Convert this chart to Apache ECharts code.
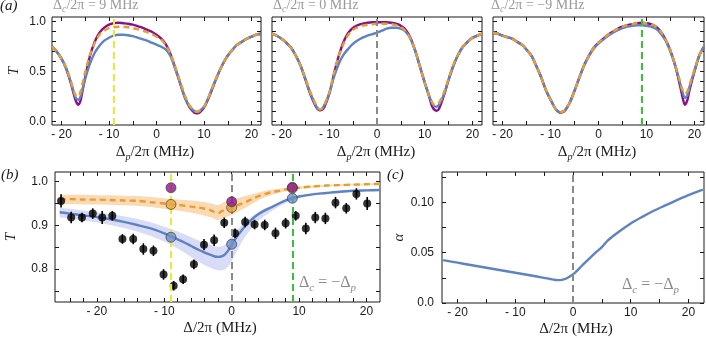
<!DOCTYPE html>
<html lang="en">
<head>
<meta charset="UTF-8">
<title>Transmission spectra</title>
<style>
  body { margin: 0; background: #fff; }
  #main { width: 706px; height: 338px; }
</style>
</head>
<body>
<div id="main"></div>
<script src="https://cdn.jsdelivr.net/npm/echarts@6/dist/echarts.min.js"></script>
<script>
// ---- panel (a): probe detuning scans, three control detunings ----
var xA1 = [-22,-21,-20,-19,-18,-17.5,-17,-16.5,-16,-15.5,-15,-14,-13,-12,-11,-10,-9,-8,-7,-6,-5,-4,-3,-2,-1,0,1,2,3,4,5,6,7,8,8.5,9,10,11,12,13,14,15,16,17,18,19,20,21,22];
var purpleA1 = [.75,.70,.63,.53,.38, .29,.21,.17,.21,.33,.45, .66,.80,.89,.94,.97,.985,.99,.985,.98,.97,.955,.94,.92,.90,.87,.83,.77,.67,.53,.38,.24,.14,.09, .085, .09,.14,.24,.36,.48,.58,.66,.72,.77,.80,.83,.85,.87,.88];
var blueA1   = [.75,.70,.63,.53,.39, .31,.24,.22,.25,.34,.43, .58,.69,.76,.81,.84,.86,.87,.87,.865,.855,.84,.825,.81,.79,.77,.75,.72,.65,.52,.38,.24,.15,.105, .10, .105,.15,.25,.37,.48,.58,.66,.72,.77,.80,.83,.85,.87,.88];
var orangeA1 = [.75,.70,.63,.54,.40, .32,.26,.25,.30,.40,.50, .67,.79,.87,.91,.935,.945,.95,.95,.945,.935,.925,.91,.895,.875,.85,.82,.76,.67,.54,.40,.26,.16,.11, .10, .105,.15,.25,.37,.48,.58,.66,.72,.77,.80,.83,.85,.87,.88];

var xA2 = [-22,-21,-20,-19,-18,-17,-16,-15,-14,-13,-12.5,-12,-11.5,-11,-10,-9,-8,-7,-6,-5,-4,-3,-2,-1,0,1,2,3,4,5,6,7,8,9,10,11,11.5,12,12.5,13,14,15,16,17,18,19,20,21,22];
var purpleA2 = [.88,.86,.83,.79,.74,.66,.56,.42,.28,.17, .13,.115,.12, .15,.28,.48,.66,.80,.89,.94,.965,.98,.99,.995,.995,.995,.995,.99,.98,.96,.92,.84,.71,.55,.39,.24, .16,.12,.11, .13,.26,.42,.56,.67,.75,.80,.84,.86,.88];
var blueA2   = [.88,.86,.83,.79,.74,.66,.56,.43,.29,.18, .135,.12,.13, .17,.28,.45,.58,.67,.73,.78,.815,.84,.86,.875,.89,.91,.93,.94,.94,.93,.90,.83,.71,.55,.39,.25, .19,.155,.15, .17,.27,.42,.56,.67,.75,.80,.84,.86,.88];
var orangeA2 = [.88,.86,.83,.79,.74,.66,.56,.43,.30,.19, .145,.125,.13, .17,.29,.49,.66,.78,.87,.92,.945,.96,.97,.975,.98,.98,.98,.975,.965,.945,.905,.83,.71,.55,.39,.25, .20,.17,.17, .19,.29,.43,.57,.67,.75,.80,.84,.86,.88];

var xA3 = [-22,-21,-20,-19,-18,-17,-16,-15,-14,-13,-12,-11,-10,-9,-8.5,-8,-7.5,-7,-6,-5,-4,-3,-2,-1,0,1,2,3,4,5,6,7,8,9,10,11,12,13,14,15,16,17,17.5,18,18.5,19,20,21,22];
var purpleA3 = [.89,.88,.86,.845,.83,.80,.77,.72,.66,.56,.45,.32,.22,.13, .105,.09,.095, .11,.19,.31,.44,.565,.66,.74,.79,.83,.87,.90,.93,.95,.965,.975,.985,.99,.985,.975,.95,.90,.82,.71,.56,.36, .25,.17,.21, .32,.50,.66,.75];
var blueA3   = [.89,.88,.86,.845,.83,.80,.77,.72,.66,.56,.45,.32,.22,.13, .105,.095,.10, .115,.19,.31,.44,.56,.655,.73,.78,.82,.86,.89,.915,.935,.95,.96,.965,.965,.96,.95,.93,.88,.81,.70,.56,.39, .30,.24,.26, .35,.51,.66,.75];
var orangeA3 = [.89,.88,.86,.845,.83,.80,.77,.72,.66,.56,.45,.32,.22,.13, .105,.095,.10, .115,.19,.31,.44,.565,.66,.74,.79,.83,.87,.90,.93,.95,.965,.975,.985,.99,.985,.975,.95,.90,.82,.71,.57,.40, .32,.28,.30, .37,.52,.66,.75];

// ---- panel (b): transmission at two-photon resonance ----
var xB = [-25.5,-24,-22,-20,-18,-16,-14,-12,-10,-9,-8,-7,-6,-5,-4,-3,-2.5,-2,-1.5,-1,-0.5,0,0.5,1,1.5,2,3,4,5,6,7,8,9,10,12,14,16,18,20,22];
var blueB   = [.930,.927,.923,.919,.914,.908,.901,.893,.882,.875,.868,.861,.853,.845,.838,.832,.829,.828,.829,.834,.843,.856,.868,.879,.889,.898,.914,.926,.935,.942,.950,.957,.962,.966,.971,.974,.977,.979,.980,.981];
var blueLo  = [.918,.916,.911,.907,.901,.894,.886,.876,.863,.855,.847,.838,.828,.818,.809,.802,.799,.797,.797,.799,.806,.818,.833,.848,.862,.874,.895,.911,.923,.933,.943,.951,.958,.963,.969,.972,.975,.977,.978,.979];
var blueHi  = [.940,.938,.934,.930,.926,.921,.915,.907,.897,.892,.886,.880,.873,.866,.860,.855,.852,.851,.852,.856,.863,.874,.884,.893,.901,.908,.921,.931,.939,.946,.953,.959,.964,.968,.973,.976,.979,.981,.982,.983];
var orangeB  = [.960,.960,.959,.959,.958,.957,.956,.953,.950,.948,.947,.945,.943,.941,.938,.934,.930,.928,.932,.936,.938,.941,.944,.947,.950,.953,.960,.967,.972,.976,.979,.982,.984,.986,.989,.991,.992,.993,.994,.995];
var orangeLo = [.949,.949,.948,.948,.947,.946,.945,.942,.938,.936,.934,.932,.929,.926,.922,.918,.914,.912,.915,.918,.921,.924,.928,.932,.936,.940,.949,.958,.965,.970,.974,.978,.981,.983,.986,.989,.990,.991,.992,.993];
var orangeHi = [.970,.970,.970,.969,.969,.968,.967,.965,.962,.960,.959,.958,.957,.955,.953,.950,.948,.946,.950,.954,.956,.959,.961,.963,.965,.967,.971,.975,.979,.982,.984,.986,.987,.989,.991,.993,.994,.995,.996,.997];

var dataX   = [-25.3,-23.8,-22.2,-20.6,-19.2,-17.7,-16.2,-14.6,-13.1,-11.6,-10.1,-8.6,-7.2,-5.6,-4.1,-2.6,-1.1,0.5,2.0,3.4,4.9,6.5,8.0,9.5,11.0,12.4,13.9,15.4,17.0,18.5,20.1];
var dataT   = [0.956,0.918,0.918,0.927,0.918,0.922,0.869,0.869,0.846,0.842,0.788,0.762,0.777,0.811,0.856,0.866,0.906,0.882,0.908,0.902,0.901,0.882,0.905,0.922,0.893,0.918,0.916,0.952,0.939,0.972,0.950];
var dataErr = [0.015,0.013,0.011,0.012,0.015,0.011,0.011,0.012,0.013,0.012,0.012,0.011,0.011,0.011,0.013,0.013,0.012,0.011,0.012,0.011,0.012,0.013,0.012,0.011,0.013,0.013,0.013,0.013,0.012,0.013,0.015];

var circX = [-9, 0, 9];
var purpleCirc = [0.986, 0.954, 0.987];
var orangeCirc = [0.948, 0.941, 0.985];
var blueCirc   = [0.873, 0.857, 0.962];

// ---- panel (c): alpha ----
var xC = [-22.5,-20,-18,-16,-14,-12,-10,-8,-6,-5,-4,-3,-2.5,-2,-1.5,-1,-0.5,0,0.5,1,1.5,2,3,4,5,6,8,10,12,14,16,18,20,22.5];
var alphaC = [.0425,.040,.038,.036,.034,.032,.030,.028,.026,.025,.0238,.0228,.0227,.0229,.0236,.0248,.0265,.0285,.0310,.0338,.0367,.0395,.0450,.0505,.0555,.0620,.0710,.0790,.0855,.0915,.0968,.1020,.1070,.1125];

// ticks
var aXTicks = [-20,-15,-10,-5,0,5,10,15,20];
var aXLabels = [-20,-10,0,10,20];
var aYTicks = [0,0.1,0.2,0.3,0.4,0.5,0.6,0.7,0.8,0.9,1.0];
var aYLabels = [0,0.5,1.0];
var bXTicks = [-24,-22,-20,-18,-16,-14,-12,-10,-8,-6,-4,-2,0,2,4,6,8,10,12,14,16,18,20];
var bXLabels = [-20,-10,0,10,20];
var bYTicks = [0.75,0.8,0.85,0.9,0.95,1.0];
var bYLabels = [0.8,0.9,1.0];
var cXTicks = [-20,-15,-10,-5,0,5,10,15,20];
var cXLabels = [-20,-10,0,10,20];
var cYTicks = [0,0.025,0.05,0.075,0.1,0.125];
var cYLabels = [0,0.05,0.1];

var PURPLE = '#8a0f8a', BLUE = '#5d83c2', ORANGE = '#e59e2f';
var YELLOW = '#e2ee2e', GRAY = '#8a8a8a', GREEN = '#38c238';
var SANS = "'Liberation Sans', Arial, sans-serif";
var SERIF = "'Liberation Serif', 'Times New Roman', serif";
var INK = '#1a1a1a';

function zip(xs, ys) { return xs.map(function (x, i) { return [x, ys[i]]; }); }
function fmtX(v) { return v < 0 ? '- ' + Math.abs(v) : String(v); }

var grids = [], xAxes = [], yAxes = [], series = [];

function addPanel(g, o) {
  var gi = grids.length;
  grids.push({ left: g[0], top: g[1], width: g[2], height: g[3], show: true,
    borderColor: INK, borderWidth: 1, backgroundColor: 'transparent' });
  function tick(vals) {
    return { inside: true, length: 4, customValues: vals, lineStyle: { color: INK, width: 1 } };
  }
  var base = { gridIndex: gi, type: 'value', axisLine: { show: false, onZero: false }, splitLine: { show: false } };
  xAxes.push(Object.assign({}, base, { min: o.x[0], max: o.x[1], position: 'bottom',
    axisTick: tick(o.xt),
    axisLabel: { customValues: o.xl, formatter: fmtX, margin: 4, fontFamily: SANS, fontSize: 12, color: INK } }));
  xAxes.push(Object.assign({}, base, { min: o.x[0], max: o.x[1], position: 'top',
    axisTick: tick(o.xt), axisLabel: { show: false } }));
  yAxes.push(Object.assign({}, base, { min: o.y[0], max: o.y[1], position: 'left',
    axisTick: tick(o.yt),
    axisLabel: o.yl ? { customValues: o.yl, formatter: o.yf, margin: o.ym, fontFamily: SANS, fontSize: 12, color: INK } : { show: false },
    name: o.yname || '', nameLocation: 'middle', nameGap: o.ygap || 30,
    nameTextStyle: { fontFamily: SERIF, fontStyle: 'italic', fontSize: 15, color: INK } }));
  yAxes.push(Object.assign({}, base, { min: o.y[0], max: o.y[1], position: 'right',
    axisTick: tick(o.yt), axisLabel: { show: false } }));
  return gi * 2;
}

function curve(ai, xs, ys, color, dashed, z) {
  return { type: 'line', xAxisIndex: ai, yAxisIndex: ai, data: zip(xs, ys), symbol: 'none',
    smooth: 0.3, z: z || 2, lineStyle: { color: color, width: 2.4, type: dashed ? [6, 4] : 'solid' } };
}
function vlines(list) {
  return { silent: true, symbol: ['none', 'none'], label: { show: false },
    lineStyle: { type: [7, 4], width: 2 },
    data: list.map(function (l) { return { xAxis: l[0], lineStyle: { color: l[1], type: [7, 4], width: 2 } }; }) };
}
// shaded confidence band: one polygon through the upper edge and back along the lower edge
function band(ai, xs, lo, hi, color) {
  series.push({ type: 'custom', xAxisIndex: ai, yAxisIndex: ai, z: 1, silent: true,
    data: [[xs[0], lo[0]]], encode: { x: 0, y: 1 },
    renderItem: function (params, api) {
      var pts = [];
      for (var i = 0; i < xs.length; i++) pts.push(api.coord([xs[i], hi[i]]));
      for (var j = xs.length - 1; j >= 0; j--) pts.push(api.coord([xs[j], lo[j]]));
      return { type: 'polygon', shape: { points: pts }, style: { fill: color } };
    } });
}

var fmt1 = function (v) { return v.toFixed(1); };
var aCommon = { x: [-22, 22], y: [-0.033, 1.047], xt: aXTicks, xl: aXLabels, yt: aYTicks };

var a1 = addPanel([52, 17, 209, 108], Object.assign({}, aCommon, { yl: aYLabels, yf: fmt1, ym: 6, yname: 'T', ygap: 30 }));
var a2 = addPanel([272, 17, 210, 108], aCommon);
var a3 = addPanel([493, 17, 211, 108], aCommon);
var b = addPanel([55, 172, 325, 130], { x: [-26.2, 22], y: [0.725, 1.022], xt: bXTicks, xl: bXLabels,
  yt: bYTicks, yl: bYLabels, yf: fmt1, ym: 7, yname: 'T', ygap: 36 });
var c = addPanel([442, 172, 262, 131], { x: [-22.7, 22.7], y: [0, 0.13], xt: cXTicks, xl: cXLabels,
  yt: cYTicks, yl: cYLabels, yf: function (v) { return v === 0 ? '0.0' : v.toFixed(2); }, ym: 8,
  yname: 'α', ygap: 34 });

// panel (a) curves
[[a1, xA1, purpleA1, blueA1, orangeA1, -9, YELLOW],
 [a2, xA2, purpleA2, blueA2, orangeA2, 0, GRAY],
 [a3, xA3, purpleA3, blueA3, orangeA3, 9, GREEN]].forEach(function (p) {
  series.push(curve(p[0], p[1], p[2], PURPLE, false, 2));
  series.push(curve(p[0], p[1], p[3], BLUE, false, 3));
  var o = curve(p[0], p[1], p[4], ORANGE, true, 4);
  o.markLine = vlines([[p[5], p[6]]]);
  series.push(o);
});

// panel (b)
band(b, xB, blueLo, blueHi, '#d9dcf7');
band(b, xB, orangeLo, orangeHi, '#fbd9b2');
var bl = curve(b, xB, blueB, BLUE, false, 2);
bl.markLine = vlines([[-9, YELLOW], [0, GRAY], [9, GREEN]]);
series.push(bl);
series.push(curve(b, xB, orangeB, ORANGE, true, 2));
series.push({ type: 'custom', xAxisIndex: b, yAxisIndex: b, z: 3,
  data: dataX.map(function (x, i) { return [x, dataT[i], dataErr[i]]; }),
  encode: { x: 0, y: 1 },
  renderItem: function (params, api) {
    var x = api.value(0), y = api.value(1), e = api.value(2);
    var p1 = api.coord([x, y - e]), p2 = api.coord([x, y + e]);
    return { type: 'line', shape: { x1: p1[0], y1: p1[1], x2: p2[0], y2: p2[1] },
      style: { stroke: '#000', lineWidth: 1.6 } };
  } });
series.push({ type: 'scatter', xAxisIndex: b, yAxisIndex: b, z: 4, data: zip(dataX, dataT),
  symbolSize: 8, itemStyle: { color: '#000' } });
[[blueCirc, '#6d90ca'], [orangeCirc, '#e9a43c'], [purpleCirc, '#8d168d']].forEach(function (cc) {
  series.push({ type: 'scatter', xAxisIndex: b, yAxisIndex: b, z: 5, data: zip(circX, cc[0]),
    symbolSize: 10, itemStyle: { color: cc[1], borderColor: '#333', borderWidth: 0.8 } });
});

// panel (c)
var cl = curve(c, xC, alphaC, BLUE, false, 2);
cl.markLine = vlines([[0, GRAY]]);
series.push(cl);

// text set in serif with subscripts
function rich(size, color) {
  return {
    d: { font: size + "px 'Liberation Serif'", fill: color, lineHeight: size + 5 },
    s: { font: 'italic ' + Math.round(size * 0.68) + "px 'Liberation Serif'", fill: color,
         lineHeight: size + 5, verticalAlign: 'bottom' },
    t: { font: 'italic ' + size + "px 'Liberation Serif'", fill: color, lineHeight: size + 5 }
  };
}
function label(x, y, text, r) {
  return { type: 'text', left: x, top: y, z: 10, style: { text: text, rich: r } };
}
function centred(x, y, text, r) {
  return { type: 'text', x: x, y: y, z: 10,
    style: { text: text, rich: r, align: 'center', verticalAlign: 'middle' } };
}
var AX = rich(15, INK), HEAD = rich(14, '#9a9a9a'), NOTE = rich(16, '#8a8a8a');

var option = {
  animation: false,
  grid: grids, xAxis: xAxes, yAxis: yAxes, series: series,
  graphic: [
    label(0, -1, '{t|(a)}', AX),
    label(1, 168, '{t|(b)}', AX),
    label(387, 168, '{t|(c)}', AX),
    label(53, -2, '{d|Δ}{s|c}{d|/2π = 9 MHz}', HEAD),
    label(273, -2, '{d|Δ}{s|c}{d|/2π = 0 MHz}', HEAD),
    label(491, -2, '{d|Δ}{s|c}{d|/2π = −9 MHz}', HEAD),
    label(299, 275, '{d|Δ}{s|c}{d| = −Δ}{s|p}', NOTE),
    label(622, 277, '{d|Δ}{s|c}{d| = −Δ}{s|p}', NOTE),
    centred(155, 152, '{d|Δ}{s|p}{d|/2π (MHz)}', AX),
    centred(376, 152, '{d|Δ}{s|p}{d|/2π (MHz)}', AX),
    centred(597, 152, '{d|Δ}{s|p}{d|/2π (MHz)}', AX),
    centred(220, 328, '{d|Δ/2π (MHz)}', AX),
    centred(576, 329, '{d|Δ/2π (MHz)}', AX)
  ]
};

var chart = echarts.init(document.getElementById('main'));
chart.setOption(option);
</script>
</body>
</html>
